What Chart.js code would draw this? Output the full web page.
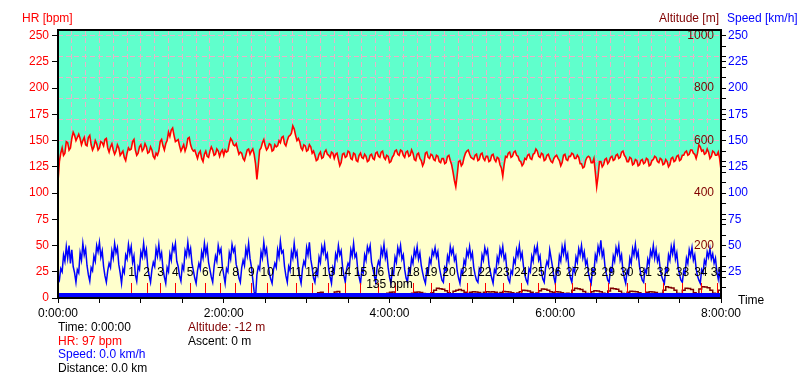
<!DOCTYPE html>
<html><head><meta charset="utf-8">
<script src="https://cdn.jsdelivr.net/npm/chart.js@4/dist/chart.umd.min.js"></script>
<style>html,body{margin:0;padding:0;background:#fff;}canvas{display:block;}</style>
</head><body>
<canvas id="c" width="803" height="377"></canvas>
<script>
const FONT = '"Liberation Sans", Arial, sans-serif';

// ---- data ----
const hrStepMin = 1;   // one HR sample every minute, 0..480
const hr = [
111,130,138,143,136,138,149,148,141,143,152,158,155,150,153,156,152,146,150,153,
146,145,153,155,146,141,144,150,147,141,143,149,148,145,151,152,143,139,144,147,
141,137,140,146,143,136,138,140,134,131,138,143,141,142,149,151,141,136,138,144,
146,140,142,147,144,138,139,144,141,135,133,138,136,140,149,151,145,141,147,150,
158,154,160,162,155,149,150,151,145,140,143,146,140,144,152,153,146,142,140,141,
137,133,138,140,133,130,137,140,135,134,140,144,141,136,137,142,140,135,139,141,
136,141,139,140,147,152,150,146,145,147,142,137,139,138,133,131,136,141,142,137,
140,142,137,128,113,126,141,143,148,151,145,141,143,147,146,140,141,146,144,145,
150,148,153,154,147,145,150,154,155,157,164,161,155,150,152,149,143,141,146,145,
140,141,146,144,138,140,136,131,132,137,139,133,134,139,141,137,136,134,139,138,
133,137,138,132,126,129,137,138,134,135,140,139,133,132,138,137,131,130,136,138,
134,133,137,135,130,131,136,137,133,132,138,139,135,134,139,140,134,132,136,135,
129,130,134,136,140,141,137,136,141,140,136,134,139,140,135,136,141,138,132,131,
137,138,133,131,126,129,138,139,134,133,137,136,132,131,136,135,130,129,133,133,
128,129,135,136,131,127,120,112,106,117,130,131,126,128,134,138,140,141,137,134,
133,132,136,137,131,132,137,138,133,131,135,135,130,131,136,137,132,130,134,133,
127,124,116,127,135,134,138,139,134,135,139,140,136,135,131,130,126,128,133,132,
136,137,133,132,137,138,142,140,135,134,138,137,131,132,136,137,133,130,129,133,
135,136,133,131,126,129,136,137,132,131,135,135,138,137,133,133,136,134,128,128,
124,125,131,134,135,134,129,129,133,120,106,116,130,130,125,127,132,133,128,130,
134,135,131,132,136,137,133,134,139,140,136,134,130,130,134,133,127,128,132,131,
126,127,131,132,128,129,133,132,126,127,131,132,135,134,130,129,133,132,127,128,
132,130,125,127,133,134,130,131,135,136,131,132,136,136,139,140,136,137,141,141,
138,137,133,138,146,144,140,141,137,138,142,139,133,135,140,139,136,136,139,133,
122
];

const altStepMin = 2;  // one altitude sample every 2 minutes
const altitude = [
-12,2,6,9,11,8,12,14,10,7,
9,12,15,11,8,10,13,9,6,10,
12,14,10,8,11,13,9,12,15,11,
8,10,13,16,12,9,11,14,10,8,
11,13,15,12,9,10,14,16,12,10,
8,11,14,12,9,13,15,11,10,12,
14,16,12,10,13,15,11,9,12,14,
16,13,10,12,15,11,9,13,16,14,
11,9,12,15,13,10,14,16,12,11,
13,15,12,10,20,22,14,12,10,13,
23,25,16,13,11,14,12,10,13,15,
12,14,16,13,11,15,14,12,16,18,
22,23,16,14,12,15,13,16,18,22,
23,21,17,14,16,20,30,37,35,33,
28,20,16,26,30,32,29,22,17,22,
24,23,21,16,22,24,23,24,22,17,
21,25,24,23,20,16,19,24,30,29,
27,22,16,19,28,34,33,30,24,21,
24,23,20,16,18,16,30,37,35,32,
25,17,15,24,28,27,24,18,16,27,
37,35,33,26,17,15,22,26,25,24,
20,16,15,22,24,23,21,16,17,30,
43,40,38,30,17,16,30,37,36,32,
20,16,34,43,42,39,30,18,16,30,
24
];

const speedStepMin = 1; // one speed sample every minute
const speed = [
20,17,28,25,41,35,49,38,50,33,46,30,24,
15,27,24,43,36,52,41,47,31,22,
16,29,26,40,35,50,44,53,39,45,30,21,
15,26,33,29,45,38,52,43,48,32,24,
14,28,24,41,37,51,42,49,34,40,22,
16,30,27,44,39,52,40,46,29,21,
15,27,34,30,47,40,51,38,43,28,20,
14,29,25,42,36,50,45,52,35,30,21,
16,31,27,45,40,53,41,47,33,26,19,
14,26,33,28,44,38,52,42,49,34,27,20,
15,30,40,35,50,43,47,30,22,
14,28,25,43,37,51,44,48,32,27,19,
15,29,36,31,47,40,52,38,30,18,6,
0,22,30,27,44,38,53,42,47,33,24,18,
14,27,33,29,46,39,54,43,45,30,21,
15,30,26,44,38,52,40,44,28,20,
14,28,35,31,48,41,53,37,29,19,
15,26,22,39,34,49,43,51,38,42,27,20,
14,29,25,42,37,50,41,45,30,21,
15,28,33,30,46,40,52,39,42,27,20,
14,27,24,41,36,49,44,50,34,28,21,
15,29,35,31,47,41,51,38,44,29,20,
14,26,23,39,34,48,42,50,37,41,27,19,
15,28,25,38,33,46,40,49,37,43,31,24,18,
14,27,24,37,33,45,41,48,39,44,30,23,17,
15,29,26,40,35,49,42,47,36,40,26,19,
14,26,23,36,32,45,40,49,38,43,29,22,17,
15,28,25,41,36,48,42,46,32,25,19,
14,27,24,39,34,47,41,49,37,41,26,18,
15,26,23,37,33,46,40,50,38,43,30,22,17,
14,28,25,40,35,48,43,50,36,40,25,18,
15,29,35,31,46,38,30,20,
14,27,24,40,35,49,42,51,37,42,26,19,
15,28,25,39,34,47,41,50,38,44,32,36,24,18,
14,27,24,41,36,49,43,55,40,45,30,23,17,
15,28,25,40,35,48,42,50,36,41,26,19,
14,26,23,38,33,47,41,51,39,44,30,22,17,
15,27,24,37,32,45,40,50,38,46,35,40,27,21,17,
14,28,25,41,36,49,42,51,37,43,29,22,17,
15,26,23,38,33,46,40,48,36,41,28,21,17,
14,27,24,36,32,44,39,47,37,42,33,38,25,18,
28,6
];

const lapTimes = [53.2,64.1,74.2,84.9,95.7,106.7,117.5,128.5,140.0,151.4,
  172.3,183.8,195.7,207.5,219.0,231.4,244.2,257.1,269.9,283.1,
  296.4,309.0,322.2,335.0,347.6,359.7,372.4,385.2,398.3,411.8,
  425.1,438.3,452.1,465.4,477.4];
const lapLabels = ['1','2','3','4','5','6','7','8','9','10','11','12','13','14','15','16','17','18','19','20',
  '21','22','23','24','25','26','27','28','29','30','31','32','33','34','35'];

const bandLevel = 4.8;        // speed units, bottom bar
const lapMarkerTop = 14.3;    // speed units
const lapLabelLevel = 23.8;   // speed units
const avgHrLabel = '135 bpm';
const avgHrLabelTime = 240;
const avgHrLabelLevel = 12.4;

const hrTicks = [0,25,50,75,100,125,150,175,200,225,250];
const speedTickMarks = [10,20,25,30,40,50,60,70,75,80,90,100,110,120,125,130,140,150,160,170,175,180,190,200,210,220,225,230,240,250];
const speedLabels = [25,50,75,100,125,150,175,200,225,250];
const altTicks = [200,400,600,800,1000];
const gridLevels = [10,30,50,70,90,110,130,150,170,190,210,230,250];
const gridMinutes = [];
for (let m = 0; m <= 480; m += 10) gridMinutes.push(m);
const timeLabelMinutes = [0,120,240,360,480];
const timeLabels = ['0:00:00','2:00:00','4:00:00','6:00:00','8:00:00'];

const infoLeft = [['Time: 0:00:00','#000000'],['HR: 97 bpm','#ff0000'],['Speed: 0.0 km/h','#0000ff'],['Distance: 0.0 km','#000000']];
const infoRight = [['Altitude: -12 m','#800000'],['Ascent: 0 m','#000000']];

// ---- styles ----
const TEAL = '#60FFCC';
const YELLOW = '#FFFFCC';
const GRID = '#E6B4C8';
const YMAX = 255.4;

const deco = {
  id: 'deco',
  beforeDraw(chart) {
    const {ctx, chartArea: a} = chart;
    ctx.save();
    ctx.fillStyle = TEAL;
    ctx.fillRect(a.left, a.top, a.right - a.left, a.bottom - a.top);
    ctx.restore();
  },
  afterDatasetsDraw(chart) {
    const {ctx, chartArea: a, scales} = chart;
    const xs = scales.x, ys = scales.ySpeed, ya = scales.yAlt;
    ctx.save();
    ctx.beginPath();
    ctx.rect(a.left, a.top, a.right - a.left, a.bottom - a.top);
    ctx.clip();
    ctx.strokeStyle = '#ff0000';
    ctx.lineWidth = 1;
    lapTimes.forEach(t => {
      const x = Math.round(xs.getPixelForValue(t)) + 0.5;
      ctx.beginPath();
      ctx.moveTo(x, ys.getPixelForValue(bandLevel));
      ctx.lineTo(x, ys.getPixelForValue(lapMarkerTop));
      ctx.stroke();
    });
    ctx.font = '12px ' + FONT;
    ctx.fillStyle = '#000';
    ctx.textAlign = 'center';
    ctx.textBaseline = 'middle';
    lapTimes.forEach((t, i) => ctx.fillText(lapLabels[i], xs.getPixelForValue(t), ys.getPixelForValue(lapLabelLevel)));
    ctx.fillText(avgHrLabel, xs.getPixelForValue(avgHrLabelTime), ys.getPixelForValue(avgHrLabelLevel));
    ctx.fillStyle = '#800000';
    ctx.textAlign = 'right';
    altTicks.forEach(v => ctx.fillText(String(v), a.right - 7, ya.getPixelForValue(v)));
    ctx.restore();
    ctx.save();
    ctx.strokeStyle = '#000';
    ctx.lineWidth = 2;
    ctx.strokeRect(a.left, a.top, a.right - a.left, a.bottom - a.top);
    ctx.restore();
  },
  afterDraw(chart) {
    const {ctx, chartArea: a} = chart;
    ctx.save();
    ctx.font = '12px ' + FONT;
    ctx.textBaseline = 'middle';
    ctx.textAlign = 'left';
    ctx.fillStyle = '#ff0000'; ctx.fillText('HR [bpm]', 22, 19);
    ctx.fillStyle = '#800000'; ctx.fillText('Altitude [m]', 659, 19);
    ctx.fillStyle = '#0000ff'; ctx.fillText('Speed [km/h]', 727, 19);
    ctx.fillStyle = '#000'; ctx.fillText('Time', 738, 301);
    infoLeft.forEach((it, i) => { ctx.fillStyle = it[1]; ctx.fillText(it[0], a.left, 328 + i * 13.5); });
    infoRight.forEach((it, i) => { ctx.fillStyle = it[1]; ctx.fillText(it[0], 188, 328 + i * 13.5); });
    ctx.restore();
  }
};

new Chart(document.getElementById('c'), {
  type: 'line',
  data: {
    datasets: [
      { label: 'HR', data: hr.map((v, i) => ({x: i * hrStepMin, y: v})), yAxisID: 'y',
        borderColor: '#ff0000', backgroundColor: YELLOW, fill: 'origin', borderWidth: 1.6,
        pointRadius: 0, tension: 0, order: 4 },
      { label: 'Altitude', data: altitude.map((v, i) => ({x: i * altStepMin, y: v})), yAxisID: 'yAlt',
        borderColor: '#800000', borderWidth: 1.5, stepped: true, fill: false, pointRadius: 0, order: 3 },
      { label: 'Band', data: [{x: 0, y: bandLevel}, {x: 480, y: bandLevel}], yAxisID: 'ySpeed',
        borderColor: '#0000ff', backgroundColor: '#0000ff', fill: 'origin', borderWidth: 0, pointRadius: 0, order: 2 },
      { label: 'Speed', data: speed.map((v, i) => ({x: i * speedStepMin, y: v})), yAxisID: 'ySpeed',
        borderColor: '#0000ff', borderWidth: 1.5, pointRadius: 0, tension: 0, fill: false, order: 1 }
    ]
  },
  options: {
    responsive: false,
    animation: false,
    events: [],
    layout: { padding: { top: 30, left: 0, right: 0, bottom: 0 } },
    plugins: { legend: { display: false }, tooltip: { enabled: false } },
    scales: {
      x: {
        type: 'linear', min: 0, max: 480,
        afterBuildTicks: ax => { ax.ticks = gridMinutes.map(v => ({value: v})); },
        ticks: { autoSkip: false, maxRotation: 0, minRotation: 0, padding: 3, color: '#000',
          font: { family: FONT, size: 12 },
          callback: v => { const i = timeLabelMinutes.indexOf(v); return i >= 0 ? timeLabels[i] : ''; } },
        grid: { color: GRID, lineWidth: 1, drawTicks: true, tickLength: 5, tickWidth: 1,
          tickColor: c => (c.tick && c.tick.value % 30 === 0) ? '#000' : 'rgba(0,0,0,0)' },
        border: { display: false, dash: [5, 3] },
        afterFit: ax => { ax.height = 79; }
      },
      y: {
        position: 'left', min: 0, max: YMAX,
        afterBuildTicks: ax => { ax.ticks = hrTicks.map(v => ({value: v})); },
        ticks: { color: '#ff0000', padding: 3, autoSkip: false, font: { family: FONT, size: 12 } },
        grid: { drawOnChartArea: false, tickLength: 6, tickColor: '#000' },
        border: { display: false },
        afterFit: ax => { ax.width = 58; }
      },
      yGrid: {
        position: 'left', min: 0, max: YMAX,
        afterBuildTicks: ax => { ax.ticks = gridLevels.map(v => ({value: v})); },
        ticks: { display: false },
        grid: { color: GRID, drawTicks: false, lineWidth: 1 },
        border: { display: false, dash: [5, 3] },
        afterFit: ax => { ax.width = 0; }
      },
      ySpeed: {
        position: 'right', min: 0, max: YMAX,
        afterBuildTicks: ax => { ax.ticks = speedTickMarks.map(v => ({value: v})); },
        ticks: { color: '#0000ff', padding: 2, autoSkip: false, font: { family: FONT, size: 12 },
          callback: v => speedLabels.includes(v) ? String(v) : '' },
        grid: { drawOnChartArea: false, tickLength: 5, tickColor: '#000' },
        border: { display: false },
        afterFit: ax => { ax.width = 82; }
      },
      yAlt: { display: false, min: 0, max: YMAX * 4 }
    }
  },
  plugins: [deco]
});
</script>
</body></html>
